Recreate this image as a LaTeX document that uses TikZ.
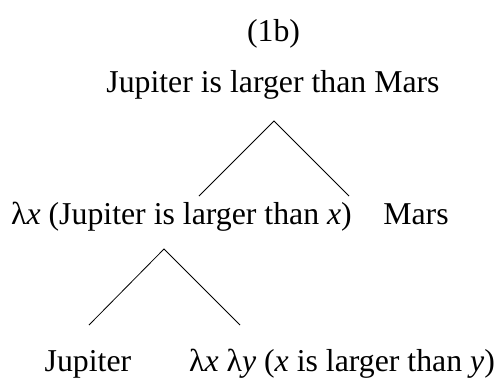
\documentclass[tikz,border=0pt]{standalone}
\usepackage{fontspec}
\setmainfont{Liberation Serif}
\begin{document}
\begin{tikzpicture}[x=1pt,y=-1pt,
  lbl/.style={anchor=base,inner sep=0pt,font=\fontsize{31.8}{38}\selectfont},
  branch/.style={line width=0.8pt}]
\useasboundingbox (0,0) rectangle (498,378);
\node[lbl] (num) at (273.5,41.7) {(1b)};
\node[lbl] (root) at (273,92.7) {Jupiter is larger than Mars};
\node[lbl] (mid) at (181.5,224) {λ\textit{x} (Jupiter is larger than \textit{x})};
\node[lbl] (mars) at (416,224) {Mars};
\node[lbl] (jup) at (88,371) {Jupiter};
\node[lbl] (pred) at (342,371) {λ\textit{x} λ\textit{y} (\textit{x} is larger than \textit{y})};
\coordinate (a1) at (274,121);
\coordinate (l1) at (199,196);
\coordinate (r1) at (349,196);
\coordinate (a2) at (164,249);
\coordinate (l2) at (89,325);
\coordinate (r2) at (240,325);
\draw[branch] (l1) -- (a1) -- (r1);
\draw[branch] (l2) -- (a2) -- (r2);
\end{tikzpicture}
\end{document}
